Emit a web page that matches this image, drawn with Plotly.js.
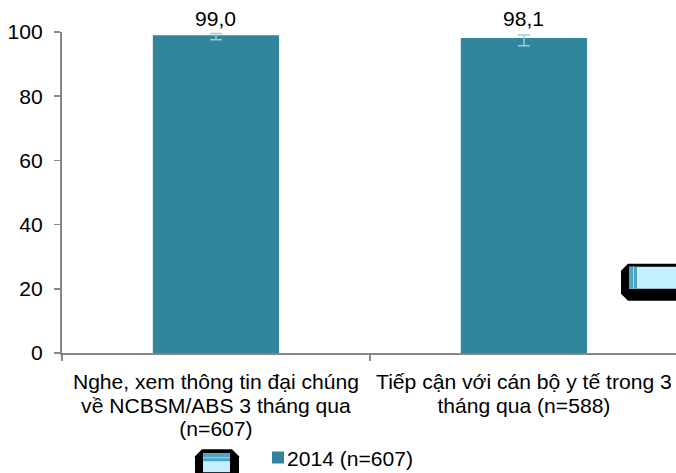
<!DOCTYPE html>
<html><head><meta charset="utf-8">
<script src="https://cdn.plot.ly/plotly-3.0.1.min.js"></script>
<style>html,body{margin:0;padding:0;background:#fff}</style></head>
<body><div id="chart" style="width:676px;height:473px"></div>
<script>
const categories = ["Nghe, xem thông tin đại chúng<br>về NCBSM/ABS 3 tháng qua<br>(n=607)", "Tiếp cận với cán bộ y tế trong 3<br>tháng qua (n=588)"];
const seriesName = "2014 (n=607)";
const values = [99.0, 98.1];
const errPlus = [0.5, 1.0];
const errMinus = [1.4, 2.4];
const yTicks = [0, 20, 40, 60, 80, 100];
const W = 676, H = 473, L = 62, R = 0, T = 31.7, B = 119.5;
const FS = 21.1;
const px = x => (x - L) / (W - L - R);
const py = y => 1 - (y - T) / (H - T - B);
function box(x0, y0, x1, y1, fill) {
  return {type: 'rect', xref: 'paper', yref: 'paper', x0: px(x0), x1: px(x1), y0: py(y0), y1: py(y1), fillcolor: fill, line: {width: 0}, layer: 'above'};
}
function blob(x0, y0, x1, y1, c) {
  const p = (x, y) => px(x) + ',' + py(y);
  return {type: 'path', xref: 'paper', yref: 'paper', fillcolor: '#000', line: {width: 0}, layer: 'above',
    path: 'M' + p(x0 + c, y0) + 'L' + p(x1 - c, y0) + 'L' + p(x1, y0 + c) + 'L' + p(x1, y1 - c) + 'L' + p(x1 - c, y1) + 'L' + p(x0 + c, y1) + 'L' + p(x0, y1 - c) + 'L' + p(x0, y0 + c) + 'Z'};
}
const shapes = [
  blob(621, 264, 690, 301, 7),
  box(629, 267, 676, 289, '#c4efff'),
  box(629, 267, 637, 289, '#4aa6c4'),
  box(633, 267, 634, 289, '#a8dcea'),
  blob(195, 450, 239, 490, 7),
  box(203, 454, 230, 473, '#c4efff'),
  box(203, 454, 230, 462, '#4aa6c4'),
  box(203, 458, 230, 459, '#a8dcea')
];
const labelShift = [3, 6];
const annotations = values.map((v, i) => ({
  x: categories[i], y: v, xref: 'x', yref: 'y', showarrow: false, yanchor: 'bottom', yshift: labelShift[i],
  text: v.toFixed(1).replace('.', ','), font: {family: 'Liberation Sans', size: FS, color: '#000'}
}));
const trace = {
  type: 'bar', x: categories, y: values, name: seriesName, showlegend: true,
  width: 0.41,
  marker: {color: '#31859c', line: {width: 0}},
  cliponaxis: false,
  error_y: {type: 'data', symmetric: false, array: errPlus, arrayminus: errMinus, color: '#8fcfdf', thickness: 1.5, width: 6},
  hoverinfo: 'skip'
};
const layout = {
  width: W, height: H, margin: {l: L, r: R, t: T, b: B, autoexpand: false}, paper_bgcolor: '#fff', plot_bgcolor: '#fff',
  font: {family: 'Liberation Sans', size: FS, color: '#000'},
  xaxis: {type: 'category', range: [-0.5, 1.494], tickson: 'boundaries', ticks: 'outside', ticklen: 6, tickcolor: '#868686', tickwidth: 1.5,
    ticklabelstandoff: 9,
    showgrid: false, showline: true, linecolor: '#868686', linewidth: 2, tickangle: 0, automargin: false, tickfont: {size: FS}},
  yaxis: {range: [0, 100], tickvals: yTicks, ticks: 'outside', ticklen: 6, tickcolor: '#868686', tickwidth: 1.5,
    ticklabelstandoff: 7,
    showgrid: false, showline: true, linecolor: '#868686', linewidth: 2, zeroline: false, automargin: false, tickfont: {size: FS}},
  showlegend: true,
  legend: {x: px(258), xanchor: 'left', y: py(438), yanchor: 'top', indentation: -11, bgcolor: 'rgba(0,0,0,0)', font: {size: FS}, itemclick: false, itemdoubleclick: false},
  shapes: shapes, annotations: annotations
};
Plotly.newPlot('chart', [trace], layout, {displayModeBar: false, staticPlot: true}).then(gd => {
  // tighter line spacing on the category labels, legend swatch closer to its text
  gd.querySelectorAll('.xtick text tspan.line').forEach(t => {
    const n = Array.from(t.parentNode.querySelectorAll('tspan.line')).indexOf(t);
    t.setAttribute('dy', (n * 1.1) + 'em');
  });
  gd.querySelectorAll('.legend g.legendpoints').forEach(g => g.setAttribute('transform', 'translate(11,0)'));
});
</script></body></html>
